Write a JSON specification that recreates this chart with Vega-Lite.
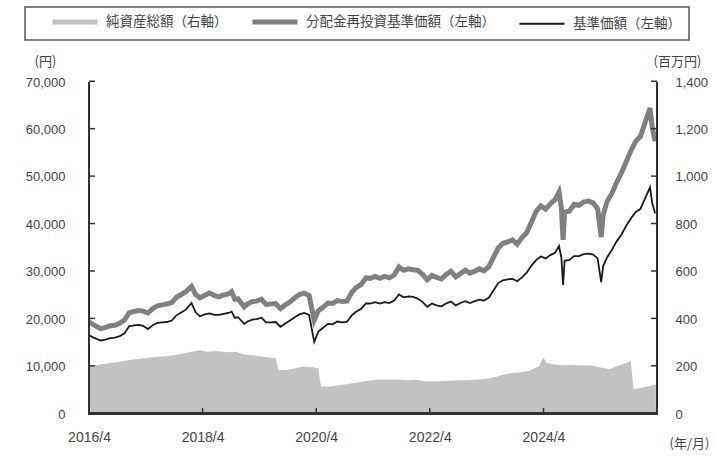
{
  "$schema": "https://vega.github.io/schema/vega-lite/v6.json",
  "autosize": {"type": "none"},
  "width": 568,
  "height": 332,
  "padding": {"left": 89, "top": 82, "right": 60, "bottom": 42},
  "background": "white",
  "config": {
    "view": {"stroke": null},
    "font": "Liberation Sans",
    "axis": {"labelFont": "Liberation Sans", "labelFontSize": 13, "labelColor": "#444", "grid": false, "labelFlush": false, "domain": false, "ticks": false, "titleFont": "Noto Sans CJK JP", "titleFontSize": 13, "titleFontWeight": "normal", "titleColor": "#444"},
    "legend": {
      "orient": "none", "legendX": -64, "legendY": -75, "direction": "horizontal", "columns": 3,
      "strokeColor": "#555", "strokeWidth": 1.5, "padding": 8, "symbolType": "stroke", "symbolSize": 2025, "symbolStrokeWidth": 5,
      "columnPadding": 5, "labelOffset": 8, "labelFont": "Noto Sans CJK JP", "labelFontSize": 13.5, "labelColor": "#444", "labelLimit": 400
    }
  },
  "datasets": {
    "yticks": [{"v": 10000}, {"v": 20000}, {"v": 30000}, {"v": 40000}, {"v": 50000}, {"v": 60000}, {"v": 70000}],
    "xticks": [{"d": "2018-04-01"}, {"d": "2020-04-01"}, {"d": "2022-04-01"}, {"d": "2024-04-01"}],
    "nav": [
      {"date": "2016-04-01", "nav": 205}, {"date": "2016-06-01", "nav": 208}, {"date": "2016-08-01", "nav": 214},
      {"date": "2016-10-01", "nav": 218}, {"date": "2016-12-01", "nav": 226}, {"date": "2017-02-01", "nav": 232},
      {"date": "2017-04-01", "nav": 236}, {"date": "2017-06-01", "nav": 240}, {"date": "2017-08-01", "nav": 243},
      {"date": "2017-10-01", "nav": 248}, {"date": "2017-12-01", "nav": 256}, {"date": "2018-02-01", "nav": 264},
      {"date": "2018-03-15", "nav": 270}, {"date": "2018-05-01", "nav": 262}, {"date": "2018-07-01", "nav": 266},
      {"date": "2018-09-01", "nav": 260}, {"date": "2018-11-01", "nav": 262}, {"date": "2019-01-01", "nav": 250},
      {"date": "2019-03-01", "nav": 248}, {"date": "2019-05-01", "nav": 240}, {"date": "2019-07-15", "nav": 236},
      {"date": "2019-08-01", "nav": 184}, {"date": "2019-10-01", "nav": 186}, {"date": "2019-12-01", "nav": 195},
      {"date": "2020-01-15", "nav": 200}, {"date": "2020-03-01", "nav": 198}, {"date": "2020-04-15", "nav": 192},
      {"date": "2020-05-01", "nav": 116}, {"date": "2020-07-01", "nav": 116}, {"date": "2020-09-01", "nav": 122},
      {"date": "2020-11-01", "nav": 128}, {"date": "2021-01-01", "nav": 134}, {"date": "2021-03-01", "nav": 140},
      {"date": "2021-05-01", "nav": 146}, {"date": "2021-07-01", "nav": 145}, {"date": "2021-09-01", "nav": 146},
      {"date": "2021-11-01", "nav": 142}, {"date": "2022-01-01", "nav": 144}, {"date": "2022-03-01", "nav": 138},
      {"date": "2022-05-01", "nav": 137}, {"date": "2022-07-01", "nav": 139}, {"date": "2022-09-01", "nav": 141},
      {"date": "2022-11-01", "nav": 142}, {"date": "2023-01-01", "nav": 143}, {"date": "2023-03-01", "nav": 147},
      {"date": "2023-05-01", "nav": 152}, {"date": "2023-07-01", "nav": 162}, {"date": "2023-09-01", "nav": 172},
      {"date": "2023-11-01", "nav": 175}, {"date": "2024-01-01", "nav": 182}, {"date": "2024-03-01", "nav": 200},
      {"date": "2024-04-01", "nav": 238}, {"date": "2024-04-20", "nav": 215}, {"date": "2024-06-01", "nav": 210},
      {"date": "2024-08-01", "nav": 206}, {"date": "2024-10-01", "nav": 207}, {"date": "2024-12-01", "nav": 205},
      {"date": "2025-02-01", "nav": 204}, {"date": "2025-04-01", "nav": 196}, {"date": "2025-06-01", "nav": 190},
      {"date": "2025-08-01", "nav": 205}, {"date": "2025-10-15", "nav": 222}, {"date": "2025-11-01", "nav": 104},
      {"date": "2026-01-01", "nav": 112}, {"date": "2026-03-25", "nav": 124}
    ],
    "price": [
      {"date": "2016-04-01", "reinv": 19400, "base": 16600}, {"date": "2016-05-01", "reinv": 18800, "base": 16100},
      {"date": "2016-06-15", "reinv": 18000, "base": 15500}, {"date": "2016-07-15", "reinv": 18200, "base": 15700},
      {"date": "2016-08-15", "reinv": 18600, "base": 16000}, {"date": "2016-09-15", "reinv": 18700, "base": 16100},
      {"date": "2016-10-15", "reinv": 19100, "base": 16400}, {"date": "2016-11-15", "reinv": 19800, "base": 17000},
      {"date": "2016-12-15", "reinv": 21300, "base": 18500}, {"date": "2017-01-15", "reinv": 21600, "base": 18700},
      {"date": "2017-02-15", "reinv": 21800, "base": 18800}, {"date": "2017-03-15", "reinv": 21700, "base": 18600},
      {"date": "2017-04-15", "reinv": 21300, "base": 17900}, {"date": "2017-05-15", "reinv": 22200, "base": 18700},
      {"date": "2017-06-15", "reinv": 22800, "base": 19200}, {"date": "2017-07-15", "reinv": 23000, "base": 19300},
      {"date": "2017-08-15", "reinv": 23200, "base": 19400}, {"date": "2017-09-15", "reinv": 23500, "base": 19700},
      {"date": "2017-10-15", "reinv": 24600, "base": 20800}, {"date": "2017-11-15", "reinv": 25200, "base": 21400},
      {"date": "2017-12-15", "reinv": 25800, "base": 22000}, {"date": "2018-01-20", "reinv": 26900, "base": 23400},
      {"date": "2018-02-15", "reinv": 25200, "base": 21500}, {"date": "2018-03-15", "reinv": 24500, "base": 20600},
      {"date": "2018-04-15", "reinv": 25000, "base": 21000}, {"date": "2018-05-15", "reinv": 25500, "base": 21200},
      {"date": "2018-06-15", "reinv": 25000, "base": 20900}, {"date": "2018-07-15", "reinv": 24700, "base": 20900},
      {"date": "2018-08-15", "reinv": 25100, "base": 21100}, {"date": "2018-09-15", "reinv": 25300, "base": 21300},
      {"date": "2018-10-05", "reinv": 25800, "base": 21600}, {"date": "2018-10-25", "reinv": 24200, "base": 20300},
      {"date": "2018-11-15", "reinv": 24300, "base": 20400}, {"date": "2018-12-25", "reinv": 22600, "base": 19000},
      {"date": "2019-01-15", "reinv": 23200, "base": 19500}, {"date": "2019-02-15", "reinv": 23700, "base": 19900},
      {"date": "2019-03-15", "reinv": 23800, "base": 20000}, {"date": "2019-04-15", "reinv": 24200, "base": 20300},
      {"date": "2019-05-15", "reinv": 23100, "base": 19300}, {"date": "2019-06-15", "reinv": 23200, "base": 19300},
      {"date": "2019-07-15", "reinv": 23300, "base": 19400}, {"date": "2019-08-15", "reinv": 22200, "base": 18400},
      {"date": "2019-09-15", "reinv": 23000, "base": 19100}, {"date": "2019-10-15", "reinv": 23600, "base": 19700},
      {"date": "2019-11-15", "reinv": 24500, "base": 20400}, {"date": "2019-12-15", "reinv": 25200, "base": 21000},
      {"date": "2020-01-15", "reinv": 25500, "base": 21300}, {"date": "2020-02-15", "reinv": 25000, "base": 20900},
      {"date": "2020-03-19", "reinv": 19800, "base": 15200}, {"date": "2020-04-15", "reinv": 21800, "base": 17400},
      {"date": "2020-05-15", "reinv": 22500, "base": 18200}, {"date": "2020-06-15", "reinv": 23400, "base": 19000},
      {"date": "2020-07-15", "reinv": 23300, "base": 18900}, {"date": "2020-08-15", "reinv": 23900, "base": 19500},
      {"date": "2020-09-15", "reinv": 23700, "base": 19300}, {"date": "2020-10-15", "reinv": 23800, "base": 19400},
      {"date": "2020-11-15", "reinv": 25600, "base": 20800}, {"date": "2020-12-15", "reinv": 26700, "base": 21600},
      {"date": "2021-01-15", "reinv": 27300, "base": 22200}, {"date": "2021-02-15", "reinv": 28700, "base": 23300},
      {"date": "2021-03-15", "reinv": 28600, "base": 23300}, {"date": "2021-04-15", "reinv": 29000, "base": 23600},
      {"date": "2021-05-15", "reinv": 28600, "base": 23300}, {"date": "2021-06-15", "reinv": 29000, "base": 23600},
      {"date": "2021-07-15", "reinv": 28700, "base": 23400}, {"date": "2021-08-15", "reinv": 29300, "base": 23900},
      {"date": "2021-09-15", "reinv": 31000, "base": 25200}, {"date": "2021-10-15", "reinv": 30300, "base": 24600},
      {"date": "2021-11-15", "reinv": 30600, "base": 24800}, {"date": "2021-12-15", "reinv": 30400, "base": 24700},
      {"date": "2022-01-15", "reinv": 30300, "base": 24300}, {"date": "2022-02-15", "reinv": 29400, "base": 23600},
      {"date": "2022-03-15", "reinv": 28300, "base": 22600}, {"date": "2022-04-15", "reinv": 29200, "base": 23300},
      {"date": "2022-05-15", "reinv": 28800, "base": 22900}, {"date": "2022-06-15", "reinv": 28500, "base": 22700},
      {"date": "2022-07-15", "reinv": 29400, "base": 23300}, {"date": "2022-08-15", "reinv": 30100, "base": 23700},
      {"date": "2022-09-15", "reinv": 28900, "base": 22900}, {"date": "2022-10-15", "reinv": 29600, "base": 23400},
      {"date": "2022-11-15", "reinv": 30300, "base": 23800}, {"date": "2022-12-15", "reinv": 29700, "base": 23400},
      {"date": "2023-01-15", "reinv": 30100, "base": 23800}, {"date": "2023-02-15", "reinv": 30600, "base": 24100},
      {"date": "2023-03-15", "reinv": 30200, "base": 23900}, {"date": "2023-04-15", "reinv": 31000, "base": 24500},
      {"date": "2023-05-15", "reinv": 33000, "base": 26000}, {"date": "2023-06-15", "reinv": 35000, "base": 27600},
      {"date": "2023-07-15", "reinv": 36000, "base": 28200}, {"date": "2023-08-15", "reinv": 36300, "base": 28400},
      {"date": "2023-09-15", "reinv": 36700, "base": 28500}, {"date": "2023-10-15", "reinv": 35800, "base": 28000},
      {"date": "2023-11-15", "reinv": 37200, "base": 28800}, {"date": "2023-12-15", "reinv": 38200, "base": 29800},
      {"date": "2024-01-15", "reinv": 40500, "base": 31300}, {"date": "2024-02-15", "reinv": 42800, "base": 32500},
      {"date": "2024-03-15", "reinv": 43900, "base": 33200}, {"date": "2024-04-15", "reinv": 43200, "base": 32800},
      {"date": "2024-05-15", "reinv": 44300, "base": 33500}, {"date": "2024-06-15", "reinv": 45200, "base": 34000},
      {"date": "2024-07-10", "reinv": 46800, "base": 35400}, {"date": "2024-07-25", "reinv": 43500, "base": 33000},
      {"date": "2024-08-05", "reinv": 36700, "base": 27200}, {"date": "2024-08-15", "reinv": 42500, "base": 32300},
      {"date": "2024-09-15", "reinv": 42800, "base": 32500}, {"date": "2024-10-15", "reinv": 44200, "base": 33300},
      {"date": "2024-11-15", "reinv": 44000, "base": 33300}, {"date": "2024-12-15", "reinv": 44700, "base": 33700},
      {"date": "2025-01-15", "reinv": 44900, "base": 33800}, {"date": "2025-02-15", "reinv": 44500, "base": 33600},
      {"date": "2025-03-15", "reinv": 43300, "base": 32800}, {"date": "2025-04-07", "reinv": 37300, "base": 27800},
      {"date": "2025-04-20", "reinv": 42000, "base": 31200}, {"date": "2025-05-15", "reinv": 44800, "base": 33000},
      {"date": "2025-06-15", "reinv": 46500, "base": 34600}, {"date": "2025-07-15", "reinv": 48800, "base": 36400},
      {"date": "2025-08-15", "reinv": 50800, "base": 37800}, {"date": "2025-09-15", "reinv": 53200, "base": 39700},
      {"date": "2025-10-15", "reinv": 55500, "base": 41200}, {"date": "2025-11-15", "reinv": 57500, "base": 42600},
      {"date": "2025-12-15", "reinv": 58500, "base": 43200}, {"date": "2026-01-15", "reinv": 61500, "base": 45500},
      {"date": "2026-02-15", "reinv": 64500, "base": 47800}, {"date": "2026-03-01", "reinv": 60500, "base": 44500},
      {"date": "2026-03-20", "reinv": 57500, "base": 42300}
    ]
  },
  "layer": [
    {
      "data": {"name": "nav"},
      "mark": {"type": "area", "color": "#c2c2c2", "interpolate": "linear"},
      "encoding": {
        "x": {"field": "date", "type": "temporal", "scale": {"domain": [{"year": 2016, "month": 4, "date": 1, "utc": true}, {"year": 2026, "month": 4, "date": 1, "utc": true}]},
          "axis": {"title": "(年/月)", "titleX": 600, "titleY": 29, "titleAlign": "center", "titleBaseline": "middle", "titleAngle": 0,
            "values": ["2016-04-01", "2018-04-01", "2020-04-01", "2022-04-01", "2024-04-01"],
            "labelExpr": "timeFormat(datum.value, '%Y/') + (month(datum.value) + 1)",
            "labelPadding": 16, "labelFontSize": 14}},
        "y": {"field": "nav", "type": "quantitative", "scale": {"domain": [0, 1400], "nice": false},
          "axis": {"orient": "right", "title": "(百万円)", "titleAngle": 0, "titleX": 20, "titleY": -21, "titleAlign": "center", "titleBaseline": "middle",
            "values": [0, 200, 400, 600, 800, 1000, 1200, 1400], "format": ",d", "labelPadding": 18}},
        "color": {"datum": "純資産総額（右軸）", "type": "nominal",
          "scale": {"domain": ["純資産総額（右軸）", "分配金再投資基準価額（左軸）", "基準価額（左軸）"], "range": ["#c2c2c2", "#808080", "#1a1a1a"]},
          "legend": {"title": null,
            "encode": {
              "symbols": {"update": {
                "size": {"value": 2025},
                "shape": {"value": "stroke"},
                "x": {"value": 42},
                "strokeWidth": {"signal": "datum.value === '基準価額（左軸）' ? 2 : 5"},
                "stroke": {"signal": "scale('color', datum.value)"},
                "fill": {"value": "transparent"}}},
              "labels": {"update": {"x": {"value": 73}}}}}}
      }
    },
    {
      "data": {"name": "price"},
      "layer": [
        {
          "mark": {"type": "line", "strokeWidth": 5, "interpolate": "linear"},
          "encoding": {
            "x": {"field": "date", "type": "temporal"},
            "y": {"field": "reinv", "type": "quantitative", "scale": {"domain": [0, 70000], "nice": false},
              "axis": {"orient": "left", "title": "(円)", "titleAngle": 0, "titleX": -44, "titleY": -21, "titleAlign": "center", "titleBaseline": "middle",
                "values": [0, 10000, 20000, 30000, 40000, 50000, 60000, 70000], "format": ",d", "labelPadding": 24}},
            "color": {"datum": "分配金再投資基準価額（左軸）", "type": "nominal"}
          }
        },
        {
          "mark": {"type": "line", "strokeWidth": 1.8, "interpolate": "linear"},
          "encoding": {
            "x": {"field": "date", "type": "temporal"},
            "y": {"field": "base", "type": "quantitative"},
            "color": {"datum": "基準価額（左軸）", "type": "nominal"}
          }
        },
        {
          "mark": {"type": "rect", "color": "#333333", "xOffset": -1, "x2Offset": 1},
          "encoding": {"x": {"datum": {"year": 2016, "month": 4, "date": 1, "utc": true}, "type": "temporal"}, "x2": {"datum": {"year": 2016, "month": 4, "date": 1, "utc": true}},
                       "y": {"datum": 0, "type": "quantitative"}, "y2": {"datum": 70000}}
        },
        {
          "mark": {"type": "rect", "color": "#333333", "xOffset": -1, "x2Offset": 1},
          "encoding": {"x": {"datum": {"year": 2026, "month": 4, "date": 1, "utc": true}, "type": "temporal"}, "x2": {"datum": {"year": 2026, "month": 4, "date": 1, "utc": true}},
                       "y": {"datum": 0, "type": "quantitative"}, "y2": {"datum": 70000}}
        },
        {
          "mark": {"type": "rect", "color": "#333333", "xOffset": -1, "x2Offset": 1},
          "encoding": {"x": {"datum": {"year": 2016, "month": 4, "date": 1, "utc": true}, "type": "temporal"}, "x2": {"datum": {"year": 2026, "month": 4, "date": 1, "utc": true}},
                       "y": {"datum": -200, "type": "quantitative"}, "y2": {"datum": 250}}
        },
        {
          "data": {"name": "yticks"},
          "mark": {"type": "rect", "color": "#333333", "x2Offset": 6, "y2Offset": -1.5},
          "encoding": {"x": {"datum": {"year": 2016, "month": 4, "date": 1, "utc": true}, "type": "temporal"}, "x2": {"datum": {"year": 2016, "month": 4, "date": 1, "utc": true}},
                       "y": {"field": "v", "type": "quantitative"}, "y2": {"field": "v"}}
        },
        {
          "data": {"name": "yticks"},
          "mark": {"type": "rect", "color": "#333333", "xOffset": -6, "y2Offset": -1.5},
          "encoding": {"x": {"datum": {"year": 2026, "month": 4, "date": 1, "utc": true}, "type": "temporal"}, "x2": {"datum": {"year": 2026, "month": 4, "date": 1, "utc": true}},
                       "y": {"field": "v", "type": "quantitative"}, "y2": {"field": "v"}}
        },
        {
          "data": {"name": "xticks"},
          "mark": {"type": "rect", "color": "#333333", "xOffset": -0.75, "x2Offset": 0.75, "y2Offset": -6},
          "encoding": {"x": {"field": "d", "type": "temporal"}, "x2": {"field": "d"},
                       "y": {"datum": 0, "type": "quantitative"}, "y2": {"datum": 0}}
        }
      ]
    }
  ],
  "resolve": {"scale": {"y": "independent"}}
}
